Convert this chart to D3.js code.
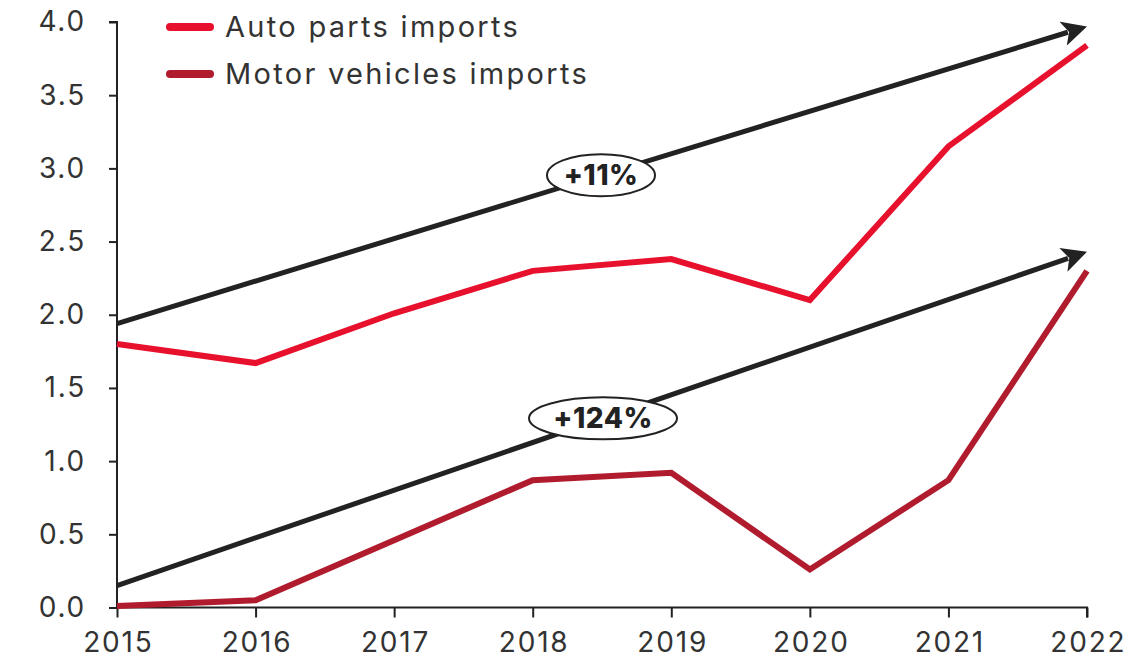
<!DOCTYPE html>
<html>
<head>
<meta charset="utf-8">
<script src="https://cdn.jsdelivr.net/npm/d3@7"></script>
<style>
  html, body { margin: 0; padding: 0; background: #fff; }
  svg text { font-family: "Inter", "Open Sans", sans-serif; }
</style>
</head>
<body>
<svg id="chart" width="1131" height="660"></svg>
<script>
const years = [2015, 2016, 2017, 2018, 2019, 2020, 2021, 2022];
const autoParts = [1.80, 1.67, 2.01, 2.30, 2.38, 2.10, 3.15, 3.84];
const motorVehicles = [0.01, 0.05, 0.46, 0.87, 0.92, 0.26, 0.87, 2.30];
const yTicks = [0, 0.5, 1.0, 1.5, 2.0, 2.5, 3.0, 3.5, 4.0];
const seriesNames = ["Auto parts imports", "Motor vehicles imports"];
const seriesColors = ["#e8112d", "#b01c2e"];
// Trend arrows: [startYear, startValue, endYear, endValue]
const trendAuto = [2015, 1.94, 2022, 3.97];
const trendMotor = [2015, 0.15, 2022, 2.43];
const trendLabels = ["+11%", "+124%"];

const FONT = "Inter, 'Open Sans', sans-serif";
const svg = d3.select("#chart");
const x = d3.scaleLinear().domain([2015, 2022]).range([117, 1087]);
const y = d3.scaleLinear().domain([0, 4]).range([607.5, 22]);

const defs = svg.append("defs");
defs.append("marker")
  .attr("id", "arrow")
  .attr("viewBox", "0 0 10 10")
  .attr("refX", 2).attr("refY", 5)
  .attr("markerWidth", 5).attr("markerHeight", 5)
  .attr("markerUnits", "strokeWidth")
  .attr("orient", "auto")
  .append("path").attr("d", "M0,0 L10,5 L0,10 L2.5,5 Z").attr("fill", "#222");

// Axes
const yAxis = d3.axisLeft(y).tickValues(yTicks).tickFormat(d3.format(".1f")).tickSize(8).tickPadding(23);
const gy = svg.append("g").attr("transform", "translate(117,0)").call(yAxis);
const xAxis = d3.axisBottom(x).tickValues(years).tickFormat(d3.format("d")).tickSize(10).tickPadding(9);
const gx = svg.append("g").attr("transform", "translate(0,607.5)").call(xAxis);

[gy, gx].forEach(g => {
  g.select(".domain").attr("stroke", "#222").attr("stroke-width", 2);
  g.selectAll(".tick line").attr("stroke", "#222").attr("stroke-width", 2);
  g.selectAll(".tick text").attr("fill", "#333").attr("font-size", 28)
    .style("font-family", FONT).style("letter-spacing", "1.8px");
});
gy.select(".domain").attr("d", "M-8,22H0V607.5");
gx.select(".domain").attr("d", "M117,0H1087V10");
gx.selectAll(".tick text").attr("dy", "0.9em").attr("dx", 0.9);

// Trend arrows
function drawTrend(t) {
  const x1 = x(t[0]), y1 = y(t[1]), x2 = x(t[2]), y2 = y(t[3]);
  const len = Math.hypot(x2 - x1, y2 - y1);
  const back = 20;
  svg.append("line")
    .attr("x1", x1).attr("y1", y1)
    .attr("x2", x2 - (x2 - x1) / len * back).attr("y2", y2 - (y2 - y1) / len * back)
    .attr("stroke", "#222").attr("stroke-width", 5)
    .attr("marker-end", "url(#arrow)");
}
drawTrend(trendAuto);
drawTrend(trendMotor);

// Data lines
const line = d3.line().x((d, i) => x(years[i])).y(d => y(d));
[autoParts, motorVehicles].forEach((s, i) => {
  svg.append("path").datum(s)
    .attr("d", line)
    .attr("fill", "none")
    .attr("stroke", seriesColors[i])
    .attr("stroke-width", 6)
    .attr("stroke-linejoin", "miter");
});

// Growth labels on trend arrows
function trendLabel(t, year, text, rx) {
  const frac = (year - t[0]) / (t[2] - t[0]);
  const v = t[1] + frac * (t[3] - t[1]);
  const cx = x(year), cy = y(v);
  const g = svg.append("g").attr("transform", `translate(${cx},${cy})`);
  g.append("ellipse").attr("rx", rx).attr("ry", 21)
    .attr("fill", "#fff").attr("stroke", "#222").attr("stroke-width", 2);
  g.append("text").attr("text-anchor", "middle").attr("dy", "0.36em")
    .attr("font-size", 28).attr("font-weight", 800).attr("fill", "#222")
    .style("letter-spacing", "0.5px")
    .text(text);
}
trendLabel(trendAuto, 2015 + (601 - 117) / (970 / 7), trendLabels[0], 54);
trendLabel(trendMotor, 2015 + (603 - 117) / (970 / 7), trendLabels[1], 74);

// Legend
const legend = svg.append("g");
seriesNames.forEach((name, i) => {
  const ly = 27 + i * 47;
  legend.append("line").attr("x1", 170).attr("x2", 210).attr("y1", ly).attr("y2", ly)
    .attr("stroke", seriesColors[i]).attr("stroke-width", 8).attr("stroke-linecap", "round");
  legend.append("text").attr("x", 225).attr("y", ly).attr("dy", "0.35em")
    .attr("font-size", 29).attr("fill", "#333").style("letter-spacing", "2.3px").text(name);
});
</script>
</body>
</html>
